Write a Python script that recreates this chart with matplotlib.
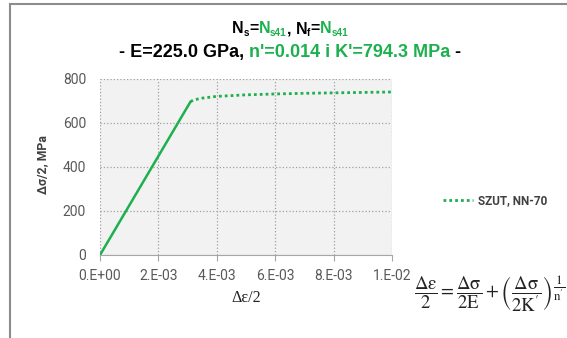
import numpy as np
import matplotlib.pyplot as plt
from matplotlib.lines import Line2D

# values
strain_el = [0.0, 0.0031]
stress_el = [0, 697]
strain_pl = [0.0031, 0.0032, 0.00335, 0.0035, 0.0040, 0.0050, 0.0060, 0.0070, 0.0080, 0.0090, 0.0100]
stress_pl = [697, 704, 709, 713, 721, 728, 732, 735, 737, 739, 741]
x_ticks = [0.0, 0.002, 0.004, 0.006, 0.008, 0.010]
x_ticklabels = ['0.E+00', '2.E-03', '4.E-03', '6.E-03', '8.E-03', '1.E-02']
y_ticks = [0, 200, 400, 600, 800]
series_name = 'SZUT, NN-70'

green = '#1db04e'
dark = '#404040'
W, H = 567, 338

fig = plt.figure(figsize=(W / 100, H / 100), dpi=100)
ax = fig.add_axes([100 / W, 1 - 255 / H, 292 / W, 176 / H])
ax.set_facecolor('#f2f2f2')

ax.plot(strain_el, stress_el, color=green, lw=1.8, solid_capstyle='round')
ax.plot(strain_pl, stress_pl, color=green, lw=2.0, linestyle=(0, (1, 1.1)),
        label=series_name)

ax.set_xlim(0, 0.01)
ax.set_ylim(0, 800)
ax.set_xticks(x_ticks)
ax.set_xticklabels(x_ticklabels)
ax.set_yticks(y_ticks)
ax.grid(True, color='#a0a0a0', linestyle=':', lw=0.9)
ax.set_axisbelow(True)
for s in ['top', 'right', 'left']:
    ax.spines[s].set_visible(False)
ax.spines['bottom'].set_color('#a6a6a6')
ax.tick_params(axis='x', direction='out', length=4, color='#a6a6a6', pad=6)
ax.tick_params(axis='y', length=0, pad=10)
for lab in ax.get_xticklabels() + ax.get_yticklabels():
    lab.set_fontfamily('Roboto')
    lab.set_fontsize(10)
    lab.set_color('#595959')

fig.text(43 / W, 1 - 165 / H, 'Δσ/2, MPa', rotation=90, ha='center', va='center',
         family='Roboto', weight='bold', fontsize=8.8, color=dark)
fig.text(246 / W, 1 - 298 / H, 'Δε/2', ha='center', va='center',
         family='Liberation Serif', fontsize=11.5, color='#222222')

leg = ax.legend(loc='center left', bbox_to_anchor=(432 / W, 1 - 201 / H),
                bbox_transform=fig.transFigure, frameon=False, handlelength=2.6,
                handletextpad=0.4, prop={'family': 'Roboto', 'weight': 'bold', 'size': 8.5})
for t in leg.get_texts():
    t.set_color(dark)

# formula
fig.text(490 / W, 1 - 294 / H,
         r'$\dfrac{\mathrm{\Delta\varepsilon}}{2}=\dfrac{\mathrm{\Delta\sigma}}{2\mathrm{E}}+'
         r'\left(\dfrac{\mathrm{\Delta\sigma}}{2\mathrm{K}^{\prime}}\right)^{\dfrac{1}{\mathrm{n}^{\prime}}}$',
         ha='center', va='center', fontsize=13.5, math_fontfamily='stix', color='#222222')

# title built from coloured pieces
renderer = fig.canvas.get_renderer()


def title_line(pieces, xc, y):
    texts = []
    total = 0
    for txt, col, size, dy in pieces:
        t = fig.text(0, y + dy / H, txt, color=col, fontsize=size, family='Liberation Sans',
                     weight='bold', va='baseline', ha='left')
        w = t.get_window_extent(renderer).width
        texts.append((t, w))
        total += w
    x = xc - total / 2
    for t, w in texts:
        t.set_x(x / W)
        x += w


title_line([('N', 'black', 11.5, 0), ('s', 'black', 7.2, -3), ('=', 'black', 11.5, 0),
            ('N', green, 11.5, 0), ('s41', green, 7.2, -3), (', N', 'black', 11.5, 0),
            ('f', 'black', 7.2, -3), ('=', 'black', 11.5, 0),
            ('N', green, 11.5, 0), ('s41', green, 7.2, -3)], 290, 1 - 33 / H)
title_line([('- E=225.0 GPa, ', 'black', 13, 0),
            ("n'=0.014 i K'=794.3 MPa", green, 13, 0),
            (' -', 'black', 13, 0)], 290, 1 - 57 / H)

# outer frame lines (top and left edges)
fig.add_artist(Line2D([10 / W, 1], [1 - 4 / H, 1 - 4 / H], color='#8c8c8c', lw=1.5))
fig.add_artist(Line2D([10 / W, 10 / W], [0, 1 - 4 / H], color='#8c8c8c', lw=1.5))

fig.savefig('out.png', dpi=100)
